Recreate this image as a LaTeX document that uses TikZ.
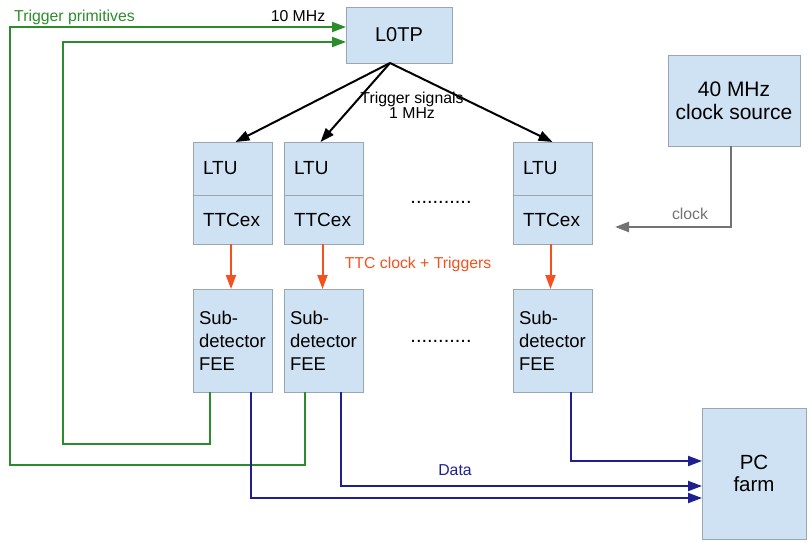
\documentclass[tikz,border=0pt]{standalone}
\usepackage{fontspec}
\setmainfont{Liberation Sans}
\usetikzlibrary{arrows.meta}
\definecolor{boxfill}{HTML}{CFE2F3}
\definecolor{boxline}{HTML}{9AA6B2}
\definecolor{tgreen}{HTML}{2B8C2B}
\definecolor{tblue}{HTML}{1F1F8F}
\definecolor{torange}{HTML}{F4511E}
\definecolor{tgrey}{HTML}{737373}
\begin{document}
\begin{tikzpicture}[x=1pt,y=-1pt,
  box/.style={draw=boxline, fill=boxfill, line width=0.9pt, inner sep=0pt, outer sep=0pt, anchor=north west},
  ltubox/.style={box, minimum width=79pt, minimum height=53pt, inner xsep=10pt, text width=59pt, align=left, font=\fontsize{19}{22}\selectfont},
  ttcbox/.style={box, minimum width=79pt, minimum height=49pt, inner xsep=10pt, text width=59pt, align=left, font=\fontsize{19}{22}\selectfont},
  feebox/.style={box, minimum width=79pt, minimum height=103pt, inner xsep=6pt, text width=67pt, align=left, font=\fontsize{18.5}{23}\selectfont},
  lbl/.style={inner sep=0pt, font=\fontsize{15.8}{15}\selectfont, anchor=base},
  dotsl/.style={inner sep=0pt, font=\fontsize{20}{20}\selectfont, anchor=base},
  conn/.style={line width=2pt, -{Triangle[length=14pt,width=10pt]}},
  blk/.style={conn, draw=black},
  grn/.style={conn, draw=tgreen},
  blu/.style={conn, draw=tblue},
  org/.style={conn, draw=torange},
  gry/.style={conn, draw=tgrey, line width=2.4pt}
]
\useasboundingbox (0,0) rectangle (811,541);

% main boxes
\node[box, minimum width=106pt, minimum height=56pt, font=\fontsize{20}{22}\selectfont] (l0tp) at (346,7) {L0TP};
\node[box, minimum width=132pt, minimum height=91pt, align=center, font=\fontsize{21}{23}\selectfont] (clk) at (668,55) {40 MHz\\clock source};
\node[box, minimum width=104pt, minimum height=131pt, align=center, font=\fontsize{20.5}{22}\selectfont] (pc) at (702,408) {PC\\farm};

\node[ltubox] (ltu1) at (193,142) {LTU};
\node[ttcbox] (ttc1) at (193,195) {TTCex};
\node[ltubox] (ltu2) at (284,142) {LTU};
\node[ttcbox] (ttc2) at (284,195) {TTCex};
\node[ltubox] (ltu3) at (513,142) {LTU};
\node[ttcbox] (ttc3) at (513,195) {TTCex};

\node[feebox] (fee1) at (193,289) {Sub-\\detector\\FEE};
\node[feebox] (fee2) at (284,289) {Sub-\\detector\\FEE};
\node[feebox] (fee3) at (513,289) {Sub-\\detector\\FEE};

% dots
\node[dotsl] (dots1) at (441,203) {...........};
\node[dotsl] (dots2) at (441,342) {...........};

% labels
\node[lbl, anchor=base west, text=tgreen] (tplbl) at (14,21) {Trigger primitives};
\node[lbl] (tenmhz) at (298,21) {10 MHz};
\node[lbl, align=center] (tslbl) at (412,118) {Trigger signals\\1 MHz};
\node[lbl, text=torange] (ttclbl) at (418,268) {TTC clock + Triggers};
\node[lbl, text=tgrey] (clklbl) at (690,219) {clock};
\node[lbl, text=tblue] (datalbl) at (455,475) {Data};

% trigger signals
\coordinate (l0out) at ([xshift=-9pt]l0tp.south);
\draw[blk] (l0out) -- ([xshift=3pt]ltu1.north);
\draw[blk] (l0out) -- ([xshift=-3pt]ltu2.north);
\draw[blk] (l0out) -- (ltu3.north);

% TTC
\draw[org] ([xshift=-1.5pt]ttc1.south) -- ([xshift=-1.5pt]fee1.north);
\draw[org] ([xshift=-1pt]ttc2.south) -- ([xshift=-1pt]fee2.north);
\draw[org] ([xshift=-2pt]ttc3.south) -- ([xshift=-2pt]fee3.north);

% trigger primitives
\draw[grn] ([xshift=21pt]fee2.south west) |- (10,465) |- ([yshift=-20pt]l0tp.north west);
\draw[grn] ([xshift=17pt]fee1.south west) |- (63,444) |- ([yshift=-35pt]l0tp.north west);

% data
\draw[blu] ([xshift=58pt]fee1.south west) |- ([yshift=-90pt]pc.north west);
\draw[blu] ([xshift=57pt]fee2.south west) |- ([yshift=-78pt]pc.north west);
\draw[blu] ([xshift=58pt]fee3.south west) |- ([yshift=-53pt]pc.north west);

% clock
\coordinate (clkend) at (615,227);
\draw[gry] ([xshift=-3pt]clk.south) |- (clkend);
\end{tikzpicture}
\end{document}
